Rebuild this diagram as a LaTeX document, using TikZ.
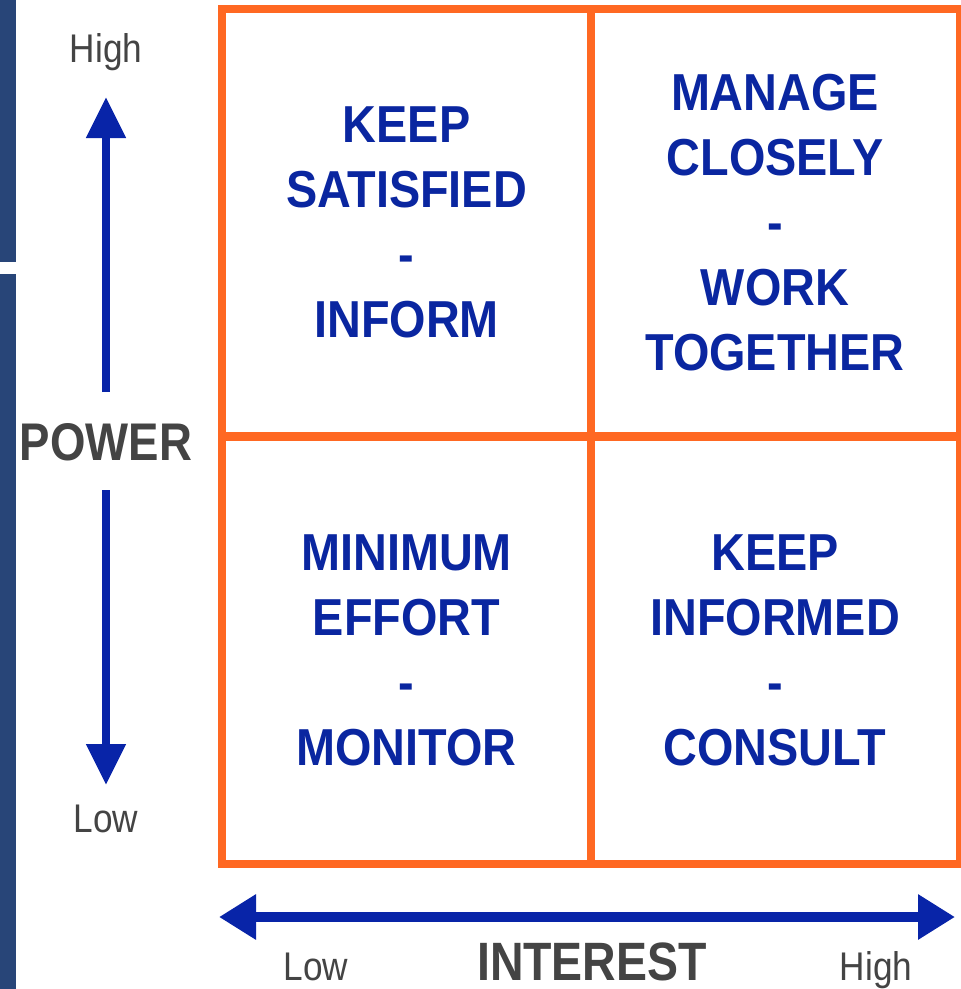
\documentclass[tikz,border=0pt]{standalone}
\usepackage{fontspec}
\setmainfont{Liberation Sans}
\newfontfamily\qfont[FakeStretch=0.9]{Liberation Sans}
\newfontfamily\afont[FakeStretch=0.86]{Liberation Sans}
\newfontfamily\lfont[FakeStretch=0.88]{Liberation Sans}
\usetikzlibrary{arrows.meta}
\definecolor{gridorange}{RGB}{255,104,34}
\definecolor{textblue}{RGB}{10,38,160}
\definecolor{arrowblue}{RGB}{8,36,168}
\definecolor{axisgray}{RGB}{68,68,68}
\definecolor{stripblue}{RGB}{40,69,120}
\tikzset{
  cell/.style={draw=gridorange, line width=8pt, minimum width=369pt, minimum height=427pt,
    inner sep=0pt, align=center, text=textblue,
    font=\qfont\bfseries\fontsize{52}{65}\selectfont},
  axistitle/.style={text=axisgray, inner sep=0pt, anchor=base,
    font=\afont\bfseries\fontsize{53}{60}\selectfont},
  axislabel/.style={text=axisgray, inner sep=0pt, anchor=base,
    font=\lfont\fontsize{40}{48}\selectfont},
  varrow/.style={draw=arrowblue, line width=8pt, -{Triangle[length=41pt,width=38pt]}},
  harrow/.style={draw=arrowblue, line width=10pt, {Triangle[length=37pt,width=43pt]}-{Triangle[length=37pt,width=43pt]}}
}
\begin{document}
\begin{tikzpicture}[x=1pt,y=-1pt]
\useasboundingbox (0,0) rectangle (961,989);
\fill[white] (0,0) rectangle (961,989);
% left background strip
\fill[stripblue] (0,0) rectangle (16,262);
\fill[stripblue] (0,274) rectangle (16,989);
% quadrants
\node[cell] (tl) at (406.5,222.5) {KEEP\\SATISFIED\\-\\INFORM};
\node[cell] (tr) at (775,222.5) {MANAGE\\CLOSELY\\-\\WORK\\TOGETHER};
\node[cell] (bl) at (406.5,650) {MINIMUM\\EFFORT\\-\\MONITOR};
\node[cell] (br) at (775,650) {KEEP\\INFORMED\\-\\CONSULT};
% vertical axis
\node[axislabel] (phigh) at (106,62) {High};
\node[axistitle] (power) at (106,460) {POWER};
\node[axislabel] (plow) at (106,832) {Low};
\coordinate (vup0) at (106,392);
\coordinate (vup1) at (106,97);
\coordinate (vdn0) at (106,490);
\coordinate (vdn1) at (106,785);
\draw[varrow] (vup0) -- (vup1);
\draw[varrow] (vdn0) -- (vdn1);
% horizontal axis
\coordinate (hl) at (219,917);
\coordinate (hr) at (955,917);
\draw[harrow] (hl) -- (hr);
\node[axislabel] (ilow) at (316,980) {Low};
\node[axistitle,font=\afont\bfseries\fontsize{54}{60}\selectfont] (interest) at (592,980) {INTEREST};
\node[axislabel] (ihigh) at (876,980) {High};
\end{tikzpicture}
\end{document}
